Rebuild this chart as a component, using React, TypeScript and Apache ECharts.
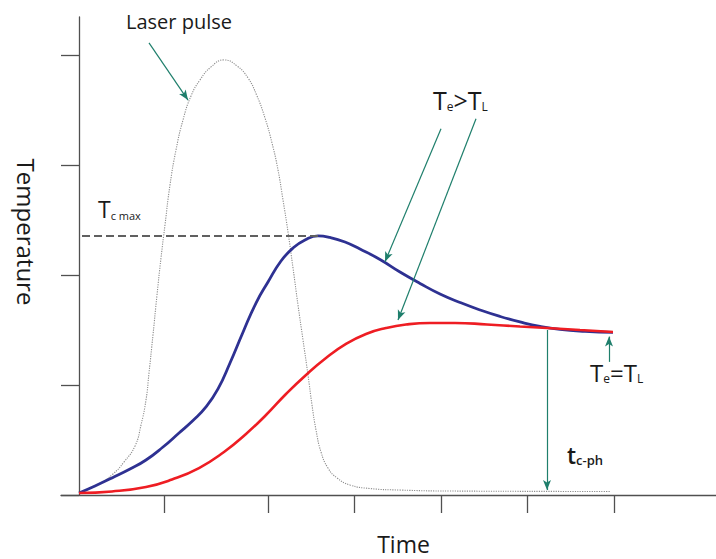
import React, { useEffect, useRef } from "react";
import * as echarts from "echarts";

// Time axis (arbitrary units) and temperature axis (arbitrary units)
const xTickValues = [0.85, 1.89, 2.75, 3.62, 4.48, 5.35];
const yTickValues = [0, 1, 2, 3, 4];

// Laser pulse intensity (dotted grey)
const pulseTime = [0, 0.2, 0.34, 0.45, 0.56, 0.62, 0.67, 0.7, 0.74, 0.78, 0.82, 0.86, 0.91, 0.97, 1.04, 1.12, 1.21, 1.32, 1.45, 1.58, 1.69, 1.78, 1.86, 1.93, 1.99, 2.04, 2.09, 2.14, 2.19, 2.24, 2.29, 2.33, 2.37, 2.42, 2.49, 2.58, 2.71, 2.91, 3.21, 3.71, 5.31];
const pulseValue = [0.018, 0.1, 0.191, 0.3, 0.445, 0.636, 0.864, 1.109, 1.455, 1.818, 2.155, 2.455, 2.818, 3.136, 3.409, 3.627, 3.773, 3.891, 3.955, 3.9, 3.791, 3.627, 3.427, 3.2, 2.955, 2.682, 2.391, 2.064, 1.727, 1.409, 1.091, 0.818, 0.591, 0.391, 0.245, 0.155, 0.091, 0.059, 0.045, 0.036, 0.032];

// Electron temperature Te (blue)
const electronTime = [0, 0.16, 0.33, 0.51, 0.67, 0.84, 1.0, 1.14, 1.27, 1.39, 1.51, 1.64, 1.77, 1.89, 2.02, 2.14, 2.26, 2.39, 2.51, 2.66, 2.81, 3.01, 3.21, 3.41, 3.61, 3.81, 4.01, 4.21, 4.41, 4.61, 4.81, 5.06, 5.34];
const electronTemp = [0.018, 0.082, 0.155, 0.236, 0.318, 0.436, 0.564, 0.677, 0.8, 0.964, 1.2, 1.48, 1.745, 1.936, 2.127, 2.245, 2.318, 2.355, 2.341, 2.3, 2.236, 2.141, 2.027, 1.923, 1.827, 1.75, 1.682, 1.623, 1.573, 1.532, 1.505, 1.488, 1.479];

// Lattice temperature TL (red)
const latticeTime = [0, 0.33, 0.67, 0.93, 1.2, 1.45, 1.67, 1.87, 2.07, 2.27, 2.47, 2.67, 2.87, 3.07, 3.27, 3.51, 3.76, 4.08, 4.41, 4.68, 5.01, 5.34];
const latticeTemp = [0.018, 0.032, 0.073, 0.141, 0.245, 0.391, 0.555, 0.727, 0.918, 1.091, 1.245, 1.373, 1.464, 1.518, 1.55, 1.564, 1.564, 1.55, 1.532, 1.518, 1.5, 1.482];

// Annotation lines in data coordinates
const tcMaxLine = [[0.03, 2.355], [2.39, 2.355]];
const arrowLines = [
  [[0.7, 4.11], [1.09, 3.59]],
  [[3.62, 3.33], [3.06, 2.12]],
  [[3.97, 3.42], [3.19, 1.59]],
  [[5.3, 1.21], [5.3, 1.44]],
  [[4.68, 1.5], [4.68, 0.045]],
];

const FONT = "'Open Sans', 'Noto Sans', sans-serif";
const ARROW = "#1f7f6c";
const AXIS = "#505050";
const INK = "#1a1a1a";

const zip = (a: number[], b: number[]) => a.map((v, i) => [v, b[i]]);

const sub = (big: number, small: number, weight: string | number = "normal") => ({
  b: { fontSize: big, lineHeight: big, fontFamily: FONT, fontWeight: weight, fill: INK },
  s: { fontSize: small, lineHeight: small, fontFamily: FONT, fontWeight: weight, fill: INK, verticalAlign: "bottom" },
});

export default function App() {
  const ref = useRef<HTMLDivElement>(null);
  useEffect(() => {
    if (!ref.current) return;
    const chart = echarts.init(ref.current, undefined, { renderer: "svg" });
    chart.setOption({
      animation: false,
      backgroundColor: "#ffffff",
      grid: { left: 61, right: 0, top: 17, bottom: 64 },
      xAxis: {
        type: "value",
        min: -0.18,
        max: 6.37,
        splitLine: { show: false },
        axisLine: { show: true, onZero: true, lineStyle: { color: AXIS, width: 1.3 } },
        axisTick: {
          show: true,
          inside: false,
          length: 18,
          customValues: xTickValues,
          lineStyle: { color: AXIS, width: 1.3 },
        },
        axisLabel: { show: false },
      },
      yAxis: {
        type: "value",
        min: 0,
        max: 4.345,
        splitLine: { show: false },
        axisLine: { show: true, onZero: true, lineStyle: { color: AXIS, width: 1.3 } },
        axisTick: {
          show: true,
          inside: false,
          length: 18,
          customValues: yTickValues,
          lineStyle: { color: AXIS, width: 1.3 },
        },
        axisLabel: { show: false },
      },
      series: [
        {
          name: "Laser pulse",
          type: "line",
          data: zip(pulseTime, pulseValue),
          showSymbol: false,
          smooth: 0.5,
          silent: true,
          z: 1,
          lineStyle: { color: "#8c8c8c", width: 1.1, type: [1.2, 1.2] },
        },
        {
          name: "Te",
          type: "line",
          data: zip(electronTime, electronTemp),
          showSymbol: false,
          smooth: 0.5,
          silent: true,
          z: 2,
          lineStyle: { color: "#2e3192", width: 2.8 },
        },
        {
          name: "TL",
          type: "line",
          data: zip(latticeTime, latticeTemp),
          showSymbol: false,
          smooth: 0.5,
          silent: true,
          z: 3,
          lineStyle: { color: "#ee1d23", width: 2.6 },
          markLine: {
            silent: true,
            animation: false,
            label: { show: false },
            emphasis: { disabled: true },
            data: [
              [
                {
                  coord: tcMaxLine[0],
                  symbol: "none",
                  lineStyle: { color: "#606060", width: 1.8, type: [8, 4] },
                },
                { coord: tcMaxLine[1], symbol: "none" },
              ],
              ...arrowLines.map((l) => [
                {
                  coord: l[0],
                  symbol: "none",
                  lineStyle: { color: ARROW, width: 1.2, type: "solid" },
                },
                { coord: l[1], symbol: "arrow", symbolSize: [6, 10] },
              ]),
            ],
          },
        },
      ],
      graphic: [
        {
          type: "text",
          x: 126,
          y: 21,
          style: { text: "Laser pulse", font: `20px ${FONT}`, fill: INK, textAlign: "left", textVerticalAlign: "middle" },
        },
        {
          type: "text",
          x: 98,
          y: 197.5,
          style: { text: "{b|T}{s|c max}", textAlign: "left", textVerticalAlign: "top", rich: sub(23, 11) },
        },
        {
          type: "text",
          x: 433,
          y: 87.8,
          style: { text: "{b|T}{s|e}{b|>T}{s|L}", textAlign: "left", textVerticalAlign: "top", rich: sub(25, 12) },
        },
        {
          type: "text",
          x: 590,
          y: 360.5,
          style: { text: "{b|T}{s|e}{b|=T}{s|L}", textAlign: "left", textVerticalAlign: "top", rich: sub(24, 12) },
        },
        {
          type: "text",
          x: 567,
          y: 443.5,
          style: { text: "{b|t}{s|c-ph}", textAlign: "left", textVerticalAlign: "top", rich: sub(23, 13, 600) },
        },
        {
          type: "text",
          x: 403.5,
          y: 544,
          style: { text: "Time", font: `23px ${FONT}`, fill: INK, textAlign: "center", textVerticalAlign: "middle" },
        },
        {
          type: "text",
          x: 26,
          y: 232,
          rotation: -Math.PI / 2,
          style: { text: "Temperature", font: `24px ${FONT}`, fill: INK, textAlign: "center", textVerticalAlign: "middle" },
        },
      ],
    });
    return () => chart.dispose();
  }, []);
  return <div ref={ref} style={{ position: "absolute", left: 0, top: 0, width: 716, height: 559 }} />;
}
